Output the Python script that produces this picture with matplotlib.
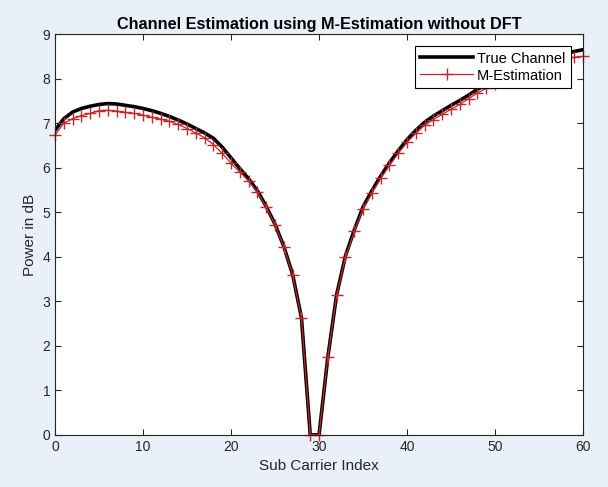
import numpy as np
import matplotlib
matplotlib.use("Agg")
import matplotlib.pyplot as plt

plt.rcParams['font.family'] = ['Liberation Sans', 'DejaVu Sans']

sub_carrier = list(range(0, 61))

true_channel = [6.84, 7.10, 7.25, 7.33, 7.38, 7.42, 7.44, 7.43, 7.40, 7.37,
                7.33, 7.28, 7.22, 7.15, 7.07, 6.98, 6.88, 6.78, 6.66, 6.46,
                6.22, 5.98, 5.75, 5.48, 5.13, 4.73, 4.23, 3.60, 2.63, 0.0,
                0.0, 1.75, 3.15, 4.02, 4.60, 5.12, 5.48, 5.81, 6.11, 6.38,
                6.63, 6.84, 7.02, 7.16, 7.28, 7.40, 7.51, 7.63, 7.76, 7.87,
                7.97, 8.07, 8.16, 8.24, 8.31, 8.38, 8.45, 8.51, 8.56, 8.61,
                8.65]

m_estimation = [6.73, 7.00, 7.10, 7.17, 7.22, 7.28, 7.29, 7.27, 7.24, 7.22,
                7.18, 7.13, 7.09, 7.04, 6.97, 6.88, 6.78, 6.67, 6.52, 6.32,
                6.10, 5.90, 5.70, 5.45, 5.11, 4.72, 4.22, 3.59, 2.62, 0.0,
                0.0, 1.75, 3.14, 3.99, 4.57, 5.08, 5.43, 5.76, 6.05, 6.32,
                6.57, 6.77, 6.95, 7.08, 7.20, 7.31, 7.42, 7.55, 7.68, 7.78,
                7.88, 7.97, 8.05, 8.12, 8.20, 8.27, 8.33, 8.39, 8.44, 8.48,
                8.50]

fig = plt.figure(figsize=(6.08, 4.87), dpi=100)
fig.patch.set_facecolor('#e9f0fa')
ax = fig.add_axes([0.0905, 0.107, 0.8685, 0.823])
ax.set_facecolor('white')

ax.plot(sub_carrier, true_channel, color='black', lw=2.6, label='True Channel')
ax.plot(sub_carrier, m_estimation, color='#c0282d', lw=0.9, marker='+',
        markersize=9, markeredgewidth=1.0, label='M-Estimation', clip_on=False)

ax.set_xlim(0, 60)
ax.set_ylim(0, 9)
ax.set_xticks(np.arange(0, 61, 10))
ax.set_yticks(np.arange(0, 10, 1))
ax.tick_params(direction='in', top=True, right=True, length=4,
               labelsize=10, colors='#262626', width=0.8)
for s in ax.spines.values():
    s.set_color('#262626')
    s.set_linewidth(0.8)

ax.set_xlabel('Sub Carrier Index', fontsize=11, color='#262626')
ax.set_ylabel('Power in dB', fontsize=11, color='#262626')
ax.set_title('Channel Estimation using M-Estimation without DFT',
             fontsize=11.7, fontweight='bold', pad=4)

leg = ax.legend(loc='upper right', fontsize=10.5, fancybox=False,
                edgecolor='black', framealpha=1, borderpad=0.35,
                handlelength=3.6, labelspacing=0.2, handletextpad=0.3,
                borderaxespad=0.85)
leg.get_frame().set_linewidth(0.8)

fig.savefig('out.png', dpi=100, facecolor=fig.get_facecolor())
